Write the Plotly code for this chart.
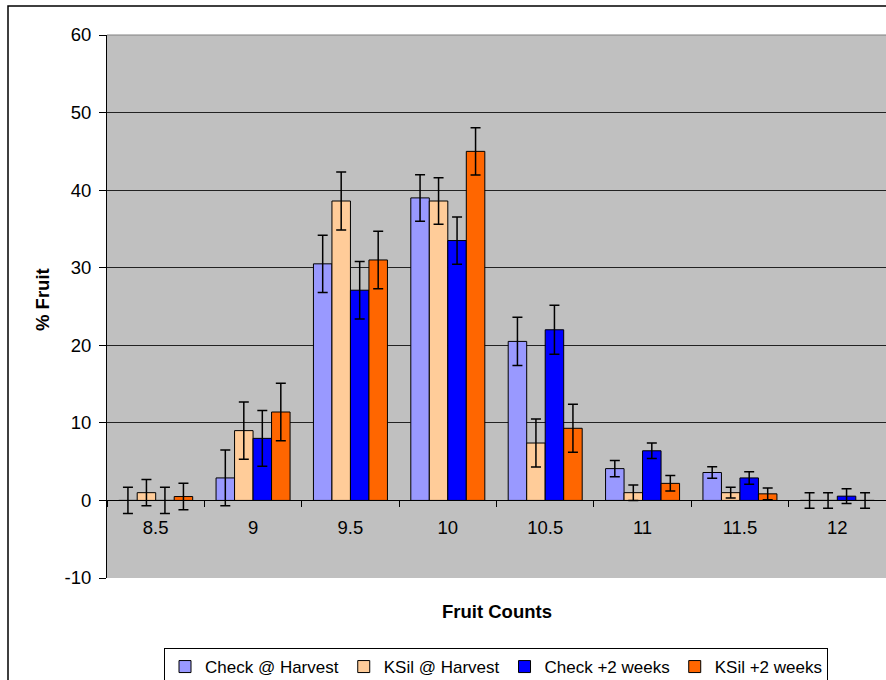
import plotly.graph_objects as go

categories = ["8.5", "9", "9.5", "10", "10.5", "11", "11.5", "12"]

series_names = ["Check @ Harvest", "KSil @ Harvest", "Check +2 weeks", "KSil +2 weeks"]
check_harvest = [0.0, 2.9, 30.5, 39.0, 20.5, 4.1, 3.6, 0.0]
ksil_harvest = [1.0, 9.0, 38.6, 38.6, 7.4, 1.0, 1.0, 0.0]
check_2wk = [0.0, 8.0, 27.1, 33.5, 22.0, 6.4, 2.9, 0.55]
ksil_2wk = [0.5, 11.4, 31.0, 45.0, 9.3, 2.2, 0.85, 0.0]

err_check_harvest = [1.7, 3.6, 3.7, 3.0, 3.1, 1.05, 0.75, 1.0]
err_ksil_harvest = [1.7, 3.7, 3.75, 3.0, 3.1, 1.0, 0.7, 1.0]
err_check_2wk = [1.7, 3.6, 3.7, 3.05, 3.15, 1.0, 0.8, 0.95]
err_ksil_2wk = [1.7, 3.7, 3.7, 3.05, 3.1, 1.0, 0.75, 1.0]

y_tick_values = [-10, 0, 10, 20, 30, 40, 50, 60]
y_tick_labels = ["-10", "0", "10", "20", "30", "40", "50", "60"]

colors = ["#9999FF", "#FFCC99", "#0000FF", "#FF6600"]

values = [check_harvest, ksil_harvest, check_2wk, ksil_2wk]
errors = [err_check_harvest, err_ksil_harvest, err_check_2wk, err_ksil_2wk]

fig = go.Figure()
for name, v, e, c in zip(series_names, values, errors, colors):
    fig.add_trace(go.Bar(
        x=categories, y=v, name=name,
        marker=dict(color=c, line=dict(color="black", width=1)),
        error_y=dict(type="data", array=e, visible=True, color="black",
                     thickness=1.5, width=5),
    ))

W, H = 886, 680
L, R, T, B = 107, 0, 35, 102
ph = H - T - B
pw = W - L - R
zero_frac = 10 / 70

font = "Liberation Sans, Arial, sans-serif"

fig.update_layout(
    width=W, height=H,
    margin=dict(l=L, r=R, t=T, b=B, autoexpand=False),
    paper_bgcolor="white",
    plot_bgcolor="#C0C0C0",
    barmode="group",
    bargap=0.24,
    bargroupgap=0,
    font=dict(family=font, size=18, color="black"),
    showlegend=True,
    legend=dict(
        orientation="h", x=(496 - L) / pw, xanchor="center",
        y=(H - B - 648) / ph, yanchor="top",
        bordercolor="black", borderwidth=1, bgcolor="white",
        font=dict(family=font, size=17),
        itemwidth=30, tracegroupgap=0,
    ),
    xaxis=dict(
        type="category",
        anchor="free", position=zero_frac,
        showline=True, linecolor="black", linewidth=1,
        ticks="outside", ticklen=6, tickcolor="black",
        tickson="boundaries",
        ticklabelstandoff=10,
        showgrid=False,
        tickfont=dict(size=18.5),
    ),
    yaxis=dict(
        range=[-10, 60],
        tickmode="array", tickvals=y_tick_values, ticktext=y_tick_labels,
        showline=True, linecolor="black", linewidth=1,
        ticks="outside", ticklen=7, tickcolor="black",
        ticklabelstandoff=4,
        showgrid=True, gridcolor="#222222", gridwidth=1,
        zeroline=True, zerolinecolor="black", zerolinewidth=1,
        tickfont=dict(size=18.5),
    ),
    annotations=[
        dict(text="<b>Fruit Counts</b>", xref="paper", yref="paper",
             x=(497 - L) / pw, y=(H - B - 611) / ph, xanchor="center", yanchor="middle",
             showarrow=False, font=dict(size=18.5)),
        dict(text="<b>% Fruit</b>", xref="paper", yref="paper",
             x=(42 - L) / pw, y=(H - B - 300) / ph, xanchor="center", yanchor="middle",
             textangle=-90, showarrow=False, font=dict(size=18.5)),
    ],
    shapes=[
        dict(type="rect", xref="paper", yref="paper",
             x0=(8 - L) / pw, x1=1.2, y0=-0.5, y1=(H - B - 6) / ph,
             line=dict(color="black", width=1.5), fillcolor="rgba(0,0,0,0)",
             layer="below"),
        dict(type="line", xref="paper", yref="paper",
             x0=0, x1=1, y0=1, y1=1, line=dict(color="#808080", width=1)),
    ],
)

fig.write_html(
    "out.html",
    config={"displayModeBar": False},
    post_script="document.body.style.margin='0';document.body.style.padding='0';",
)
